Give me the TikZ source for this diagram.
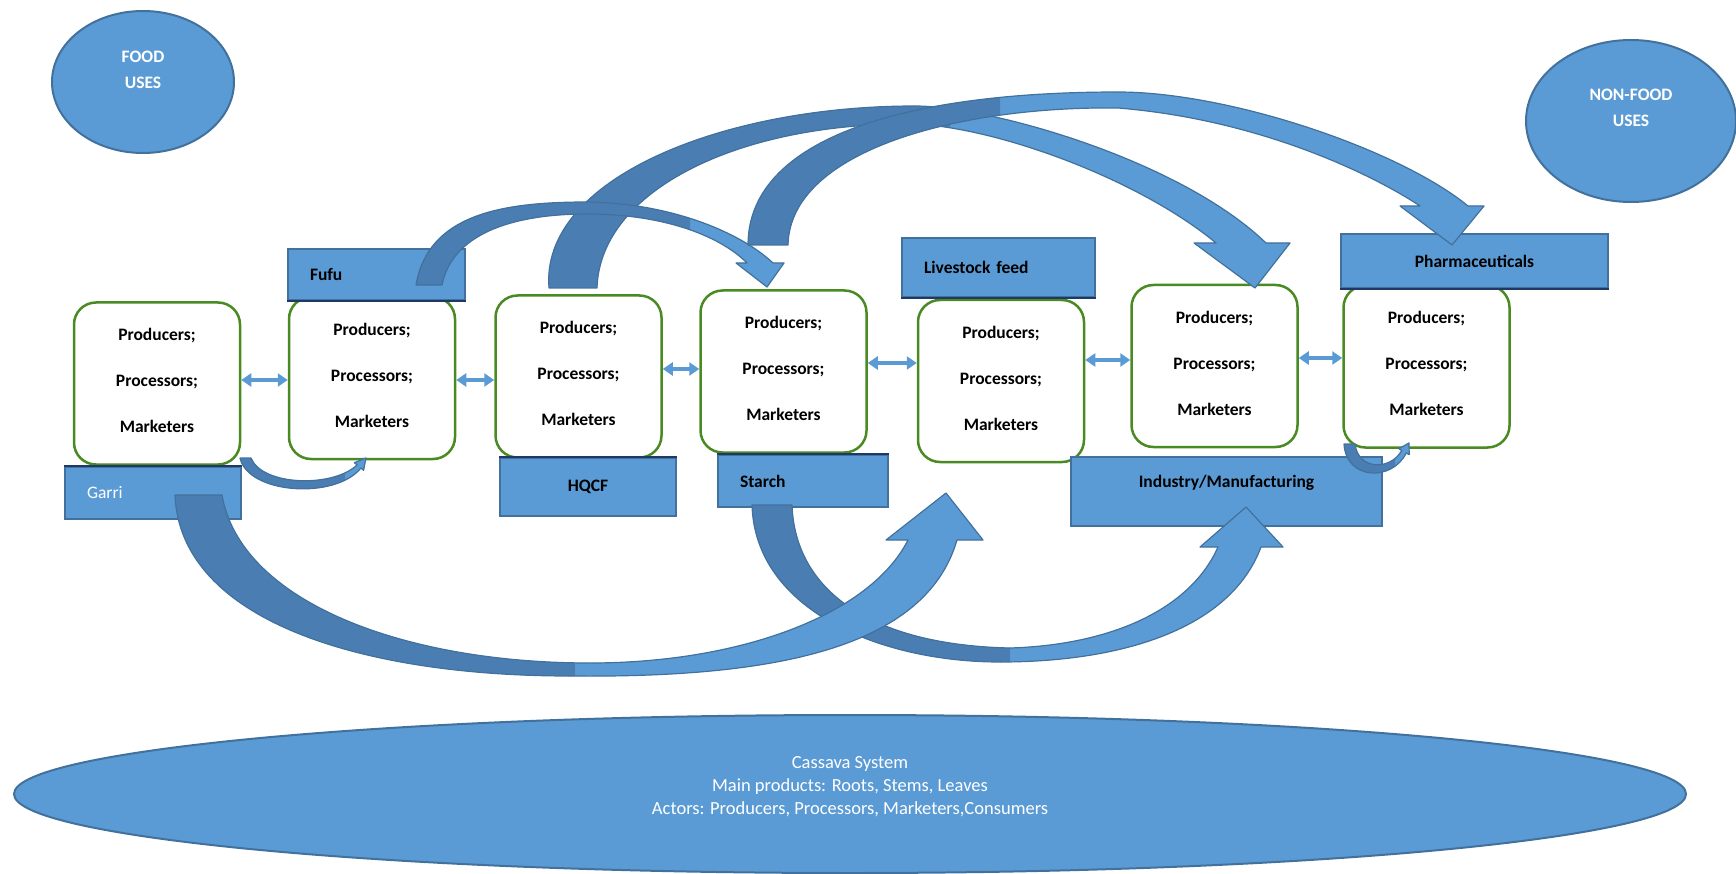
\documentclass[tikz,border=0pt]{standalone}
\usepackage{fontspec}
\setmainfont{Carlito}
\usetikzlibrary{arrows.meta,shapes.geometric}
\definecolor{boxblue}{HTML}{5B9BD5}
\definecolor{boxedge}{HTML}{41719C}
\definecolor{arrdark}{HTML}{4A7DB1}
\definecolor{procgreen}{HTML}{4A8A22}
\definecolor{navyedge}{HTML}{203864}
\newcommand\blockarrow[2]{%
  \fill[boxblue] #2;
  \begin{scope}\clip (0,0) rectangle (#1,874);\fill[arrdark] #2;\end{scope}
  \draw[boxedge, line width=1.2pt, line join=round] #2;
}
\begin{document}
\begin{tikzpicture}[x=1pt,y=-1pt,
  procbox/.style={draw=procgreen, line width=2.5pt, fill=white, rounded corners=22pt,
    minimum width=166pt, minimum height=162pt, inner sep=0pt},
  proctext/.style={font=\fontsize{17.5}{46}\selectfont\bfseries, align=center, inner sep=0pt},
  lblbox/.style={draw=boxedge, line width=2pt, fill=boxblue, inner sep=0pt,
    font=\fontsize{17.5}{21}\selectfont\bfseries},
  lblleft/.style={align=left, inner xsep=22pt},
  usesell/.style={ellipse, draw=boxedge, line width=2pt, fill=boxblue, inner sep=0pt},
  whitetext/.style={font=\fontsize{17.5}{26}\selectfont\bfseries, text=white, align=center},
  dbl/.style={draw=boxblue, line width=3.5pt, {Triangle[length=10pt,width=13pt]}-{Triangle[length=10pt,width=13pt]}},
  navyline/.style={draw=navyedge, line width=2.5pt}
]
\useasboundingbox (0,0) rectangle (1736,874);

% use ellipses
\node[usesell, minimum width=182pt, minimum height=142pt,
  label={[whitetext, yshift=12pt]center:FOOD\\USES}] (food) at (143,82) {};
\node[usesell, minimum width=210pt, minimum height=162pt,
  label={[whitetext, yshift=13pt]center:NON-FOOD\\USES}] (nonfood) at (1631,121) {};
\node[usesell, minimum width=1672pt, minimum height=158pt,
  label={[text=white, align=center, font=\fontsize{18.5}{23}\selectfont, yshift=7pt]center:Cassava System\\Main products: Roots, Stems, Leaves\\Actors: Producers, Processors, Marketers,Consumers}]
  (cassava) at (850,794) {};

% process boxes
\node[procbox] (p1) at (157,383.5) {};
\node[procbox] (p2) at (372,378) {};
\node[procbox] (p3) at (578.5,376.5) {};
\node[procbox] (p4) at (783.5,371.5) {};
\node[procbox] (p5) at (1001,381) {};
\node[procbox] (p6) at (1214.5,366) {};
\node[procbox] (p7) at (1426.5,366.5) {};
\foreach \b in {p1,p2,p3,p4,p5,p6,p7}{
  \node[proctext] (\b t) at ([yshift=3pt]\b.center) {Producers;\\Processors;\\Marketers};
}

% product label boxes
\node[lblbox, lblleft, minimum height=51pt, text width=133pt] (fufu) at (376.5,274.5) {Fufu};
\node[lblbox, lblleft, minimum height=52pt, text width=132pt, text=white,
  font=\fontsize{17.5}{21}\selectfont] (garri) at (153,493) {Garri};
\node[lblbox, minimum width=176pt, minimum height=58pt] (hqcf) at (588,487) {HQCF};
\node[lblbox, lblleft, minimum height=52pt, text width=126pt] (starch) at (803,481) {Starch};
\node[lblbox, lblleft, minimum height=59pt, text width=149pt] (livestock) at (998.5,267.5) {Livestock feed};
\node[lblbox, minimum width=267pt, minimum height=54pt] (pharma) at (1474.5,261) {Pharmaceuticals};
\node[lblbox, minimum width=311pt, minimum height=69pt,
  label={[font=\fontsize{17.5}{21}\selectfont\bfseries, yshift=9pt]center:Industry/Manufacturing}] (industry) at (1226.5,491.5) {};

\draw[navyline] (fufu.south west) -- (fufu.south east);
\draw[navyline] (livestock.south west) -- (livestock.south east);
\draw[navyline] (pharma.south west) -- (pharma.south east);
\draw[navyline] (hqcf.north west) -- (hqcf.north east);
\draw[navyline] (garri.north west) -- (garri.north east);
\draw[navyline] (starch.north west) -- (starch.north east);

% links between actor boxes
\draw[dbl] (p1.east |- 0,380) -- (p2.west |- 0,380);
\draw[dbl] (p2.east |- 0,380) -- (p3.west |- 0,380);
\draw[dbl] (p3.east |- 0,369) -- (p4.west |- 0,369);
\draw[dbl] (p4.east |- 0,363) -- (p5.west |- 0,363);
\draw[dbl] (p5.east |- 0,360) -- (p6.west |- 0,360);
\draw[dbl] (p6.east |- 0,358) -- (p7.west |- 0,358);

% big curved arrows (top)
\blockarrow{950}{(549,288) .. controls (540,180) and (720,106) .. (915,106)
  .. controls (990,106) and (1180,160) .. (1266,243) -- (1290,243) -- (1255,288)
  -- (1194,243) -- (1216,243) .. controls (1140,180) and (1000,128) .. (915,124)
  .. controls (740,122) and (600,190) .. (597,288) -- cycle}
\blockarrow{690}{(416,285) .. controls (428,215) and (500,202) .. (587,202)
  .. controls (670,203) and (740,232) .. (773,263) -- (784,263) -- (767,287)
  -- (736,263) -- (747,263) .. controls (718,234) and (660,214) .. (587,214)
  .. controls (510,214) and (452,235) .. (442,285) -- cycle}
\blockarrow{1000}{(748,245) .. controls (748,140) and (900,92) .. (1118,92)
  .. controls (1230,92) and (1400,150) .. (1468,206) -- (1484,206) -- (1452,245)
  -- (1400,206) -- (1420,206) .. controls (1378,178) and (1265,120) .. (1118,108)
  .. controls (960,106) and (790,150) .. (788,245) -- cycle}

% big curved arrows (bottom)
\blockarrow{1010}{(752,505) .. controls (755,610) and (880,662) .. (1000,662)
  .. controls (1120,662) and (1230,630) .. (1261,547) -- (1283,547) -- (1246,507)
  -- (1200,547) -- (1218,547) .. controls (1190,610) and (1110,645) .. (1010,648)
  .. controls (870,645) and (795,590) .. (792,505) -- cycle}
\blockarrow{575}{(175,495) .. controls (180,620) and (360,676) .. (570,676)
  .. controls (770,678) and (925,650) .. (957,540) -- (983,540) -- (946,493)
  -- (886,540) -- (908,540) .. controls (870,615) and (740,663) .. (590,663)
  .. controls (400,663) and (240,600) .. (222,495) -- cycle}

% small curved arrows
\blockarrow{345}{(240,458) .. controls (248,494) and (335,500) .. (360.9,468.1)
  -- (363.6,470.3) -- (366,458) -- (354.4,462.7) -- (357.1,464.9)
  .. controls (333,488) and (262,486) .. (251,458) -- cycle}
\blockarrow{1395}{(1344,444) .. controls (1346,480) and (1392,482) .. (1406.2,453)
  -- (1409.2,454.7) -- (1409,443) -- (1398.8,448.7) -- (1401.8,450.5)
  .. controls (1390,471) and (1358,470) .. (1355,444) -- cycle}
\end{tikzpicture}
\end{document}
